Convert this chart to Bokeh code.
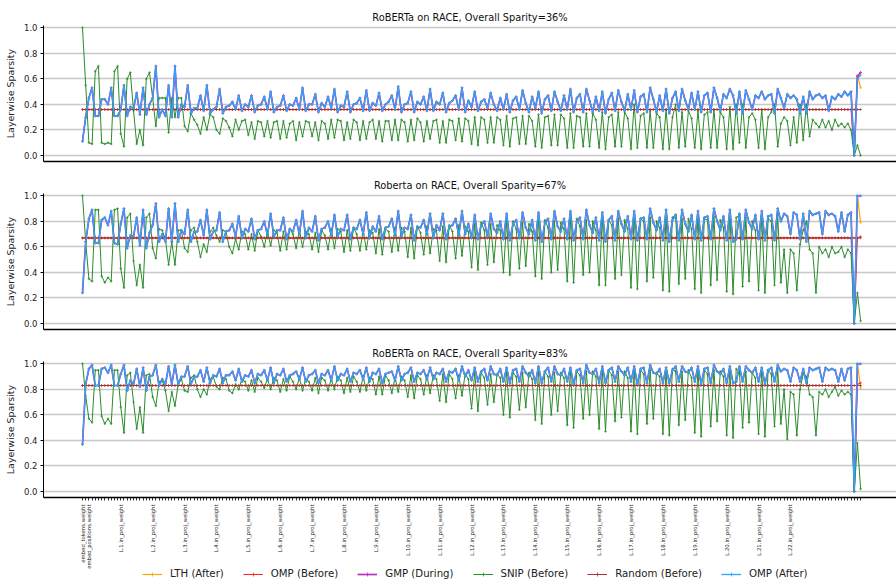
import math
from bokeh.plotting import figure
from bokeh.layouts import column
from bokeh.models import Range1d, FixedTicker, Legend, LegendItem
from bokeh.core.properties import value
from bokeh.embed import file_html
from bokeh.resources import INLINE

# ---------------- data ----------------
titles = ["RoBERTa on RACE, Overall Sparity=36%",
          "Roberta on RACE, Overall Sparity=67%",
          "RoBERTa on RACE, Overall Sparity=83%"]
series_names = ["LTH (After)", "OMP (Before)", "GMP (During)", "SNIP (Before)", "Random (Before)", "OMP (After)"]

tick_positions = [0, 2] + [12 + 10 * (k - 1) for k in range(1, 23)]
tick_names = ["embed_tokens.weight", "embed_positions.weight"] + ["L.%d.in_proj_weight" % k for k in range(1, 23)]

y_ticks = [0.0, 0.2, 0.4, 0.6, 0.8, 1.0]
y_tick_labels = ["0.0", "0.2", "0.4", "0.6", "0.8", "1.0"]

omp_after_36 = [
    0.11, 0.30, 0.45, 0.53, 0.31, 0.31, 0.44, 0.44, 0.40, 0.53,
    0.31, 0.31, 0.36, 0.55, 0.31, 0.38, 0.37, 0.49, 0.32, 0.53,
    0.32, 0.40, 0.45, 0.70, 0.30, 0.36, 0.31, 0.55, 0.30, 0.70,
    0.30, 0.40, 0.38, 0.55, 0.33, 0.37, 0.37, 0.47, 0.35, 0.55,
    0.33, 0.36, 0.38, 0.52, 0.33, 0.38, 0.39, 0.42, 0.36, 0.47,
    0.35, 0.40, 0.38, 0.47, 0.34, 0.39, 0.40, 0.46, 0.36, 0.50,
    0.34, 0.38, 0.39, 0.47, 0.35, 0.40, 0.39, 0.45, 0.36, 0.53,
    0.35, 0.40, 0.40, 0.48, 0.34, 0.41, 0.38, 0.46, 0.37, 0.52,
    0.34, 0.39, 0.38, 0.50, 0.34, 0.40, 0.41, 0.45, 0.35, 0.51,
    0.35, 0.41, 0.39, 0.49, 0.35, 0.40, 0.42, 0.47, 0.36, 0.54,
    0.34, 0.40, 0.41, 0.50, 0.34, 0.42, 0.40, 0.46, 0.35, 0.52,
    0.35, 0.42, 0.40, 0.49, 0.34, 0.41, 0.43, 0.47, 0.36, 0.53,
    0.34, 0.43, 0.38, 0.50, 0.35, 0.42, 0.44, 0.37, 0.49, 0.40,
    0.35, 0.45, 0.36, 0.48, 0.34, 0.43, 0.46, 0.36, 0.51, 0.41,
    0.34, 0.46, 0.37, 0.50, 0.33, 0.44, 0.47, 0.35, 0.50, 0.42,
    0.35, 0.47, 0.36, 0.52, 0.34, 0.45, 0.48, 0.34, 0.52, 0.43,
    0.34, 0.46, 0.35, 0.50, 0.33, 0.44, 0.49, 0.35, 0.51, 0.42,
    0.35, 0.48, 0.36, 0.51, 0.34, 0.46, 0.48, 0.34, 0.53, 0.44,
    0.34, 0.47, 0.35, 0.52, 0.33, 0.45, 0.50, 0.35, 0.52, 0.43,
    0.36, 0.49, 0.36, 0.50, 0.34, 0.47, 0.49, 0.34, 0.53, 0.45,
    0.35, 0.48, 0.45, 0.52, 0.47, 0.33, 0.50, 0.33, 0.51, 0.44,
    0.36, 0.47, 0.45, 0.50, 0.44, 0.47, 0.48, 0.33, 0.52, 0.45,
    0.37, 0.48, 0.45, 0.47, 0.44, 0.33, 0.46, 0.33, 0.50, 0.44,
    0.47, 0.48, 0.45, 0.47, 0.35, 0.46, 0.44, 0.48, 0.46, 0.50,
    0.47, 0.50, 0.00, 0.60, 0.63]

snip_36 = [
    1.00, 0.55, 0.10, 0.09, 0.66, 0.70, 0.10, 0.09, 0.10, 0.09,
    0.66, 0.70, 0.17, 0.07, 0.60, 0.65, 0.35, 0.09, 0.20, 0.08,
    0.60, 0.65, 0.45, 0.23, 0.45, 0.45, 0.45, 0.18, 0.45, 0.30,
    0.45, 0.45, 0.23, 0.19, 0.33, 0.28, 0.24, 0.17, 0.30, 0.20,
    0.32, 0.30, 0.20, 0.17, 0.29, 0.27, 0.22, 0.15, 0.28, 0.20,
    0.27, 0.28, 0.16, 0.26, 0.13, 0.27, 0.26, 0.15, 0.27, 0.14,
    0.26, 0.27, 0.13, 0.27, 0.14, 0.25, 0.27, 0.12, 0.26, 0.15,
    0.27, 0.26, 0.15, 0.26, 0.12, 0.27, 0.25, 0.13, 0.28, 0.14,
    0.28, 0.27, 0.12, 0.26, 0.13, 0.28, 0.26, 0.12, 0.27, 0.13,
    0.26, 0.28, 0.13, 0.27, 0.11, 0.27, 0.27, 0.12, 0.28, 0.12,
    0.28, 0.26, 0.11, 0.28, 0.12, 0.29, 0.26, 0.11, 0.27, 0.13,
    0.27, 0.28, 0.10, 0.27, 0.10, 0.28, 0.27, 0.12, 0.29, 0.11,
    0.29, 0.27, 0.09, 0.30, 0.08, 0.30, 0.28, 0.10, 0.30, 0.10,
    0.30, 0.28, 0.08, 0.31, 0.07, 0.29, 0.30, 0.09, 0.31, 0.09,
    0.31, 0.27, 0.07, 0.32, 0.06, 0.30, 0.31, 0.08, 0.32, 0.08,
    0.32, 0.29, 0.06, 0.33, 0.06, 0.31, 0.30, 0.07, 0.33, 0.07,
    0.33, 0.28, 0.06, 0.34, 0.05, 0.30, 0.32, 0.07, 0.34, 0.07,
    0.34, 0.29, 0.05, 0.40, 0.06, 0.31, 0.33, 0.06, 0.35, 0.06,
    0.33, 0.30, 0.05, 0.36, 0.05, 0.30, 0.40, 0.06, 0.34, 0.07,
    0.35, 0.29, 0.06, 0.35, 0.05, 0.32, 0.34, 0.06, 0.36, 0.06,
    0.34, 0.30, 0.05, 0.38, 0.05, 0.40, 0.10, 0.40, 0.06, 0.30,
    0.33, 0.28, 0.06, 0.36, 0.05, 0.30, 0.34, 0.40, 0.07, 0.25,
    0.30, 0.27, 0.08, 0.30, 0.10, 0.40, 0.12, 0.40, 0.15, 0.28,
    0.25, 0.22, 0.28, 0.22, 0.27, 0.20, 0.28, 0.23, 0.25, 0.22,
    0.25, 0.20, 0.00, 0.08, 0.00]

omp_after_67 = [
    0.24, 0.64, 0.82, 0.89, 0.63, 0.63, 0.81, 0.83, 0.77, 0.88,
    0.63, 0.62, 0.78, 0.90, 0.59, 0.69, 0.68, 0.83, 0.61, 0.89,
    0.59, 0.71, 0.77, 0.94, 0.64, 0.70, 0.64, 0.90, 0.64, 0.94,
    0.64, 0.73, 0.70, 0.89, 0.64, 0.72, 0.72, 0.81, 0.69, 0.89,
    0.66, 0.72, 0.73, 0.87, 0.64, 0.72, 0.73, 0.78, 0.68, 0.84,
    0.67, 0.74, 0.72, 0.82, 0.66, 0.73, 0.74, 0.80, 0.69, 0.86,
    0.68, 0.73, 0.73, 0.83, 0.66, 0.74, 0.72, 0.81, 0.70, 0.88,
    0.67, 0.75, 0.72, 0.84, 0.65, 0.74, 0.75, 0.80, 0.69, 0.85,
    0.68, 0.74, 0.73, 0.85, 0.66, 0.75, 0.74, 0.81, 0.70, 0.87,
    0.67, 0.76, 0.72, 0.84, 0.66, 0.75, 0.76, 0.82, 0.69, 0.88,
    0.68, 0.75, 0.74, 0.85, 0.65, 0.76, 0.75, 0.81, 0.70, 0.86,
    0.67, 0.77, 0.73, 0.86, 0.66, 0.76, 0.77, 0.82, 0.69, 0.88,
    0.70, 0.78, 0.67, 0.85, 0.66, 0.77, 0.80, 0.68, 0.86, 0.74,
    0.71, 0.80, 0.66, 0.86, 0.65, 0.78, 0.81, 0.67, 0.87, 0.75,
    0.70, 0.81, 0.65, 0.87, 0.64, 0.79, 0.82, 0.66, 0.88, 0.76,
    0.72, 0.82, 0.66, 0.88, 0.65, 0.80, 0.83, 0.66, 0.89, 0.77,
    0.71, 0.83, 0.65, 0.87, 0.64, 0.81, 0.84, 0.65, 0.88, 0.78,
    0.72, 0.84, 0.66, 0.88, 0.65, 0.82, 0.83, 0.66, 0.90, 0.79,
    0.73, 0.83, 0.65, 0.89, 0.64, 0.81, 0.85, 0.65, 0.89, 0.78,
    0.72, 0.85, 0.66, 0.88, 0.65, 0.83, 0.84, 0.66, 0.90, 0.80,
    0.73, 0.84, 0.65, 0.89, 0.64, 0.66, 0.86, 0.66, 0.89, 0.79,
    0.74, 0.85, 0.66, 0.88, 0.65, 0.84, 0.85, 0.65, 0.90, 0.80,
    0.86, 0.84, 0.70, 0.87, 0.85, 0.66, 0.86, 0.64, 0.88, 0.85,
    0.86, 0.87, 0.70, 0.88, 0.85, 0.86, 0.84, 0.72, 0.87, 0.72,
    0.85, 0.87, 0.00, 1.00, 1.00]

snip_67 = [
    1.00, 0.64, 0.35, 0.33, 0.89, 0.89, 0.37, 0.32, 0.36, 0.33,
    0.89, 0.90, 0.43, 0.28, 0.83, 0.86, 0.49, 0.30, 0.46, 0.28,
    0.83, 0.86, 0.59, 0.51, 0.74, 0.73, 0.66, 0.46, 0.64, 0.46,
    0.73, 0.73, 0.59, 0.56, 0.73, 0.75, 0.64, 0.52, 0.62, 0.56,
    0.72, 0.75, 0.69, 0.64, 0.73, 0.72, 0.60, 0.55, 0.66, 0.58,
    0.72, 0.70, 0.58, 0.70, 0.57, 0.73, 0.68, 0.60, 0.72, 0.61,
    0.73, 0.71, 0.57, 0.72, 0.58, 0.74, 0.70, 0.59, 0.73, 0.60,
    0.72, 0.70, 0.58, 0.71, 0.56, 0.73, 0.69, 0.58, 0.74, 0.59,
    0.74, 0.72, 0.56, 0.73, 0.57, 0.75, 0.70, 0.57, 0.73, 0.58,
    0.73, 0.71, 0.55, 0.74, 0.54, 0.74, 0.72, 0.56, 0.75, 0.57,
    0.75, 0.72, 0.52, 0.75, 0.51, 0.76, 0.71, 0.54, 0.76, 0.55,
    0.74, 0.73, 0.49, 0.76, 0.48, 0.77, 0.72, 0.51, 0.77, 0.53,
    0.76, 0.72, 0.44, 0.78, 0.42, 0.79, 0.73, 0.46, 0.78, 0.48,
    0.77, 0.73, 0.40, 0.80, 0.38, 0.80, 0.74, 0.43, 0.79, 0.45,
    0.78, 0.72, 0.37, 0.81, 0.35, 0.81, 0.75, 0.40, 0.80, 0.42,
    0.79, 0.74, 0.33, 0.82, 0.32, 0.82, 0.76, 0.38, 0.81, 0.40,
    0.80, 0.73, 0.30, 0.83, 0.30, 0.81, 0.77, 0.35, 0.82, 0.38,
    0.81, 0.74, 0.28, 0.85, 0.27, 0.82, 0.80, 0.33, 0.83, 0.36,
    0.80, 0.75, 0.26, 0.84, 0.25, 0.83, 0.85, 0.31, 0.82, 0.35,
    0.82, 0.74, 0.27, 0.85, 0.24, 0.82, 0.81, 0.30, 0.84, 0.34,
    0.81, 0.75, 0.25, 0.86, 0.23, 0.83, 0.85, 0.29, 0.83, 0.33,
    0.80, 0.73, 0.26, 0.84, 0.24, 0.82, 0.80, 0.30, 0.85, 0.32,
    0.58, 0.24, 0.58, 0.55, 0.26, 0.62, 0.73, 0.80, 0.58, 0.55,
    0.24, 0.60, 0.55, 0.58, 0.52, 0.60, 0.55, 0.56, 0.60, 0.52,
    0.58, 0.55, 0.00, 0.24, 0.02]

omp_after_83 = [
    0.37, 0.84, 0.96, 0.99, 0.83, 0.83, 0.96, 0.97, 0.93, 0.99,
    0.83, 0.83, 0.92, 0.99, 0.79, 0.87, 0.84, 0.96, 0.82, 0.97,
    0.79, 0.90, 0.91, 0.99, 0.83, 0.88, 0.84, 0.98, 0.84, 0.99,
    0.84, 0.90, 0.90, 0.98, 0.84, 0.90, 0.90, 0.95, 0.86, 0.97,
    0.85, 0.91, 0.90, 0.96, 0.85, 0.91, 0.91, 0.94, 0.87, 0.96,
    0.86, 0.91, 0.90, 0.95, 0.85, 0.92, 0.91, 0.95, 0.87, 0.97,
    0.85, 0.92, 0.91, 0.96, 0.86, 0.91, 0.92, 0.94, 0.88, 0.97,
    0.86, 0.91, 0.92, 0.95, 0.85, 0.92, 0.91, 0.95, 0.87, 0.98,
    0.87, 0.92, 0.91, 0.96, 0.86, 0.93, 0.92, 0.95, 0.88, 0.97,
    0.86, 0.93, 0.92, 0.96, 0.85, 0.92, 0.93, 0.94, 0.87, 0.98,
    0.87, 0.92, 0.93, 0.97, 0.86, 0.93, 0.92, 0.95, 0.88, 0.97,
    0.88, 0.93, 0.92, 0.96, 0.86, 0.94, 0.93, 0.96, 0.87, 0.98,
    0.90, 0.95, 0.87, 0.97, 0.86, 0.94, 0.96, 0.87, 0.98, 0.92,
    0.91, 0.96, 0.86, 0.97, 0.85, 0.95, 0.96, 0.86, 0.98, 0.93,
    0.90, 0.95, 0.85, 0.98, 0.85, 0.94, 0.97, 0.86, 0.98, 0.92,
    0.91, 0.96, 0.86, 0.97, 0.84, 0.95, 0.96, 0.85, 0.99, 0.93,
    0.92, 0.96, 0.85, 0.98, 0.85, 0.95, 0.97, 0.86, 0.98, 0.94,
    0.91, 0.97, 0.86, 0.98, 0.84, 0.96, 0.97, 0.85, 0.99, 0.93,
    0.92, 0.96, 0.85, 0.97, 0.85, 0.95, 0.98, 0.86, 0.98, 0.94,
    0.93, 0.97, 0.86, 0.98, 0.84, 0.96, 0.97, 0.85, 0.99, 0.94,
    0.92, 0.96, 0.85, 0.98, 0.85, 0.86, 0.98, 0.86, 0.98, 0.95,
    0.93, 0.97, 0.86, 0.97, 0.84, 0.95, 0.97, 0.86, 0.99, 0.94,
    0.96, 0.95, 0.86, 0.97, 0.95, 0.86, 0.96, 0.85, 0.97, 0.95,
    0.96, 0.97, 0.86, 0.97, 0.95, 0.96, 0.95, 0.86, 0.96, 0.87,
    0.96, 0.97, 0.00, 1.00, 1.00]

snip_83 = [
    1.00, 0.75, 0.57, 0.54, 0.95, 0.95, 0.59, 0.53, 0.57, 0.53,
    0.95, 0.95, 0.66, 0.46, 0.91, 0.93, 0.70, 0.49, 0.66, 0.46,
    0.91, 0.92, 0.74, 0.67, 0.86, 0.87, 0.79, 0.63, 0.78, 0.67,
    0.84, 0.88, 0.79, 0.78, 0.89, 0.91, 0.80, 0.74, 0.80, 0.76,
    0.88, 0.90, 0.82, 0.80, 0.89, 0.88, 0.79, 0.77, 0.84, 0.80,
    0.88, 0.86, 0.79, 0.87, 0.78, 0.89, 0.86, 0.81, 0.88, 0.80,
    0.89, 0.87, 0.78, 0.88, 0.79, 0.90, 0.86, 0.80, 0.89, 0.79,
    0.88, 0.86, 0.79, 0.89, 0.77, 0.89, 0.87, 0.79, 0.88, 0.80,
    0.90, 0.87, 0.77, 0.89, 0.78, 0.90, 0.86, 0.78, 0.90, 0.79,
    0.89, 0.88, 0.76, 0.90, 0.76, 0.91, 0.87, 0.77, 0.89, 0.78,
    0.90, 0.87, 0.74, 0.91, 0.73, 0.91, 0.88, 0.76, 0.91, 0.77,
    0.91, 0.88, 0.71, 0.92, 0.70, 0.92, 0.88, 0.73, 0.91, 0.75,
    0.92, 0.88, 0.65, 0.93, 0.63, 0.93, 0.89, 0.68, 0.92, 0.70,
    0.92, 0.89, 0.60, 0.94, 0.58, 0.93, 0.90, 0.64, 0.93, 0.66,
    0.93, 0.88, 0.56, 0.94, 0.53, 0.94, 0.90, 0.60, 0.93, 0.63,
    0.93, 0.89, 0.52, 0.95, 0.50, 0.94, 0.91, 0.57, 0.94, 0.60,
    0.94, 0.90, 0.49, 0.95, 0.47, 0.95, 0.91, 0.55, 0.94, 0.58,
    0.94, 0.89, 0.47, 0.96, 0.45, 0.95, 0.92, 0.53, 0.95, 0.57,
    0.93, 0.90, 0.45, 0.95, 0.44, 0.96, 0.94, 0.52, 0.94, 0.56,
    0.95, 0.89, 0.46, 0.96, 0.43, 0.95, 0.92, 0.51, 0.95, 0.55,
    0.94, 0.90, 0.44, 0.96, 0.42, 0.96, 0.94, 0.50, 0.94, 0.54,
    0.93, 0.89, 0.45, 0.95, 0.43, 0.95, 0.92, 0.51, 0.96, 0.53,
    0.80, 0.41, 0.78, 0.76, 0.44, 0.80, 0.92, 0.90, 0.76, 0.74,
    0.44, 0.78, 0.76, 0.80, 0.74, 0.78, 0.82, 0.75, 0.79, 0.76,
    0.78, 0.76, 0.00, 0.38, 0.02]

# uniform (layerwise constant) sparsities and their last three layers
omp_before_36 = [0.36] * 242 + [0.00, 0.62, 0.65]
omp_before_67 = [0.67] * 242 + [0.00, 0.67, 0.68]
omp_before_83 = [0.83] * 242 + [0.00, 0.84, 0.85]
random_36 = [0.36] * 245
random_67 = [0.67] * 245
random_83 = [0.83] * 245

# LTH and GMP coincide with OMP (After) except for the last layers
lth_36 = omp_after_36[:242] + [0.00, 0.63, 0.53]
lth_67 = omp_after_67[:242] + [0.00, 1.00, 0.79]
lth_83 = omp_after_83[:242] + [0.00, 1.00, 0.81]
gmp_36 = omp_after_36[:242] + [0.00, 0.62, 0.65]
gmp_67 = omp_after_67[:242] + [0.00, 1.00, 1.00]
gmp_83 = omp_after_83[:242] + [0.00, 1.00, 1.00]

layer_index = list(range(len(omp_after_36)))

# ---------------- styling ----------------
FONT = "DejaVu Sans"
colors = ["#ffa500", "#ff2020", "#c030c0", "#2a8c2a", "#a83232", "#26a8ff"]
widths = [1.2, 1.0, 1.7, 1.0, 1.0, 1.3]
marker_size = 2.6

panels = [
    (titles[0], [lth_36, omp_before_36, gmp_36, snip_36, random_36, omp_after_36]),
    (titles[1], [lth_67, omp_before_67, gmp_67, snip_67, random_67, omp_after_67]),
    (titles[2], [lth_83, omp_before_83, gmp_83, snip_83, random_83, omp_after_83]),
]

PX_PER_IDX = 3.189
FRAME_W = 853
X0 = -12.23
X1 = X0 + FRAME_W / PX_PER_IDX
tops = [25, 24, 24]
bottoms = [8, 8, 6]

figs = []
for i, (title, data) in enumerate(panels):
    last = (i == 2)
    p = figure(frame_width=FRAME_W, frame_height=136,
               min_border_left=43, min_border_right=0,
               min_border_top=tops[i], min_border_bottom=bottoms[i],
               x_range=Range1d(X0, X1), y_range=Range1d(-0.047, 1.018),
               output_backend="svg", toolbar_location=None, title=title)
    p.title.text_font = FONT
    p.title.text_font_size = "9.8px"
    p.title.text_font_style = "normal"
    p.title.text_color = "#111111"
    p.title.align = "center"
    p.title.standoff = 5
    p.outline_line_color = None
    p.background_fill_color = "white"
    p.border_fill_color = "white"
    p.xgrid.grid_line_color = None
    p.ygrid.grid_line_color = "#c8c8c8"
    p.ygrid.grid_line_width = 1.4

    # y axis
    p.yaxis.ticker = FixedTicker(ticks=y_ticks, minor_ticks=[])
    p.yaxis.major_label_overrides = {t: l for t, l in zip(y_ticks, y_tick_labels)}
    p.yaxis.major_label_text_font = FONT
    p.yaxis.major_label_text_font_size = "8.5px"
    p.yaxis.major_label_text_color = "#222222"
    p.yaxis.major_label_standoff = 3
    p.yaxis.major_tick_out = 3
    p.yaxis.major_tick_in = 0
    p.yaxis.minor_tick_out = 0
    p.yaxis.minor_tick_in = 0
    p.yaxis.axis_line_color = "black"
    p.yaxis.axis_label = "Layerwise Sparsity"
    p.yaxis.axis_label_text_font = FONT
    p.yaxis.axis_label_text_font_size = "9.5px"
    p.yaxis.axis_label_text_font_style = "normal"
    p.yaxis.axis_label_text_color = "#222222"
    p.yaxis.axis_label_standoff = 5

    # x axis (tick marks only; the names are drawn in the strip below)
    p.xaxis.axis_line_color = "black"
    p.xaxis.axis_line_width = 1.3
    p.xaxis.minor_tick_out = 0
    p.xaxis.minor_tick_in = 0
    p.xaxis.major_label_standoff = 0
    p.xaxis.major_label_text_font_size = "0px"
    p.xaxis.major_label_overrides = {k: "" for k in layer_index}
    if last:
        p.xaxis.ticker = FixedTicker(ticks=layer_index, minor_ticks=[])
        p.xaxis.major_tick_out = 3
        p.xaxis.major_tick_in = 0
        p.xaxis.major_tick_line_width = 0.8
    else:
        p.xaxis.ticker = FixedTicker(ticks=[], minor_ticks=[])
        p.xaxis.major_tick_out = 0
        p.xaxis.major_tick_in = 0

    for name, ys, col, lw in zip(series_names, data, colors, widths):
        p.line(layer_index, ys, line_color=col, line_width=lw)
        p.scatter(layer_index, ys, marker="cross", size=marker_size, line_color=col, line_width=0.7)
    figs.append(p)

# strip below the last panel: rotated tick names + legend
STRIP_H = 80
q = figure(frame_width=FRAME_W, frame_height=STRIP_H,
           min_border_left=43, min_border_right=0, min_border_top=0, min_border_bottom=0,
           x_range=Range1d(X0, X1), y_range=Range1d(0, STRIP_H),
           x_axis_location=None, y_axis_location=None,
           output_backend="svg", toolbar_location=None)
q.outline_line_color = None
q.xgrid.grid_line_color = None
q.ygrid.grid_line_color = None
q.background_fill_color = "white"
q.border_fill_color = "white"
q.text(x=tick_positions, y=[STRIP_H - 1] * len(tick_positions), text=tick_names,
       angle=math.pi / 2, text_align="right", text_baseline="middle",
       text_font=value(FONT), text_font_size="5.3px", text_color="#1a1a1a")

# legend proxies: the last panel's series on a range where they fall outside the strip
q.extra_y_ranges = {"offstrip": Range1d(5, 6)}
legend_items = []
for name, ys, col, lw in zip(series_names, panels[2][1], colors, widths):
    lr = q.line(layer_index, ys, line_color=col, line_width=lw, y_range_name="offstrip")
    sr = q.scatter(layer_index, ys, marker="cross", size=marker_size + 1.4, line_color=col,
                   line_width=0.8, y_range_name="offstrip")
    legend_items.append(LegendItem(label=name, renderers=[lr, sr]))
legend = Legend(items=legend_items, orientation="horizontal", location=(99, 4),
                label_text_font=FONT, label_text_font_size="10.2px",
                label_text_color="#222222",
                glyph_width=20, glyph_height=10, label_standoff=8, spacing=19,
                padding=1, margin=0, label_height=11,
                border_line_color=None, background_fill_alpha=0)
q.add_layout(legend, "center")
figs.append(q)

layout = column(*figs, spacing=0)
open("out.html", "w").write(file_html(layout, INLINE))
